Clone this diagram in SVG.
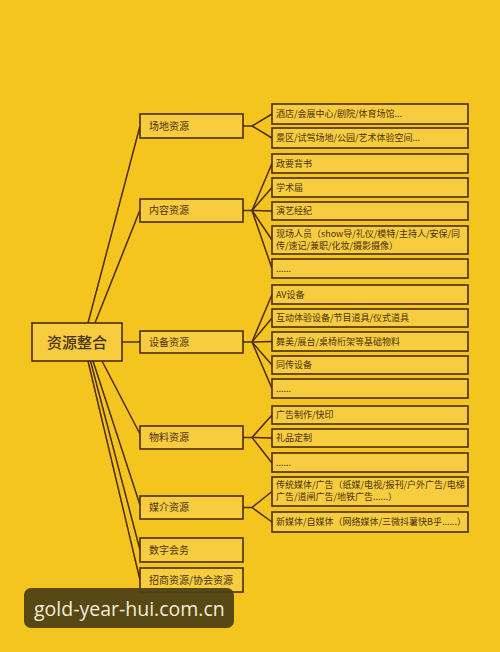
<svg xmlns="http://www.w3.org/2000/svg" width="500" height="652" viewBox="0 0 500 652">
<defs>
<style>
.n rect{fill:#f7cd3f;stroke:#4a2c12;stroke-width:1.6}
.t{font-family:"Noto Sans CJK SC","Noto Sans",sans-serif;fill:#4a3012}
.m{font-size:15px;font-weight:500}
.l1{font-size:10px}
.l2{font-size:9px}
#edges line,#edges polyline{stroke:#4a2c12;stroke-width:1.5;fill:none}
</style>
</defs>
<rect width="500" height="652" fill="#f4c41f"/>
<g id="edges">
<line x1="88" y1="323" x2="140" y2="126"/>
<line x1="95" y1="323" x2="140" y2="210"/>
<line x1="122" y1="342" x2="140" y2="342"/>
<line x1="102" y1="361" x2="140" y2="434"/>
<line x1="93" y1="361" x2="140" y2="505"/>
<line x1="90.5" y1="361" x2="140" y2="550"/>
<line x1="88" y1="361" x2="140" y2="580"/>
<polyline points="243,126 252,126 272,114"/>
<polyline points="252,126 272,138"/>
<polyline points="243,210.5 252,210.5 272,163.5"/>
<polyline points="252,210.5 272,187.5"/>
<polyline points="252,210.5 272,211"/>
<polyline points="252,210.5 272,240"/>
<polyline points="252,210.5 272,268.5"/>
<polyline points="243,342 252,342 272,294.5"/>
<polyline points="252,342 272,318"/>
<polyline points="252,342 272,341.5"/>
<polyline points="252,342 272,365"/>
<polyline points="252,342 272,388.5"/>
<polyline points="243,437.5 252,437.5 272,415"/>
<polyline points="252,437.5 272,438"/>
<polyline points="252,437.5 272,463"/>
<polyline points="243,507.5 252,507.5 272,491.5"/>
<polyline points="252,507.5 272,522"/>
</g>
<g id="root" class="n"><rect x="32" y="323" width="90" height="38"/><text class="t m" x="77" y="347.5" text-anchor="middle">资源整合</text></g>
<g id="venue" class="n"><rect x="140" y="114" width="103" height="24"/><text class="t l1" x="149" y="129.5">场地资源</text></g>
<g id="content" class="n"><rect x="140" y="199" width="103" height="23"/><text class="t l1" x="149" y="214">内容资源</text></g>
<g id="equip" class="n"><rect x="140" y="331" width="103" height="22"/><text class="t l1" x="149" y="345.5">设备资源</text></g>
<g id="material" class="n"><rect x="140" y="426" width="103" height="23"/><text class="t l1" x="149" y="441">物料资源</text></g>
<g id="media" class="n"><rect x="140" y="496" width="103" height="23"/><text class="t l1" x="149" y="511">媒介资源</text></g>
<g id="digital" class="n"><rect x="140" y="538" width="103" height="24"/><text class="t l1" x="149" y="553.5">数字会务</text></g>
<g id="invest" class="n"><rect x="140" y="568" width="103" height="24"/><text class="t l1" x="149" y="583.5">招商资源/协会资源</text></g>
<g id="v1" class="n"><rect x="272" y="104" width="196" height="20"/><text class="t l2" x="276" y="117">酒店/会展中心/剧院/体育场馆...</text></g>
<g id="v2" class="n"><rect x="272" y="128" width="196" height="20"/><text class="t l2" x="276" y="141">景区/试驾场地/公园/艺术体验空间...</text></g>
<g id="c1" class="n"><rect x="272" y="154" width="196" height="19"/><text class="t l2" x="276" y="166.5">政要背书</text></g>
<g id="c2" class="n"><rect x="272" y="178" width="196" height="19"/><text class="t l2" x="276" y="190.5">学术届</text></g>
<g id="c3" class="n"><rect x="272" y="202" width="196" height="18"/><text class="t l2" x="276" y="214">演艺经纪</text></g>
<g id="c4" class="n"><rect x="272" y="226" width="196" height="28"/><text class="t l2" x="276" y="236.5">现场人员（show导/礼仪/模特/主持人/安保/同</text><text class="t l2" x="276" y="248.5">传/速记/兼职/化妆/摄影摄像）</text></g>
<g id="c5" class="n"><rect x="272" y="259" width="196" height="19"/><text class="t l2" x="276" y="271.5">......</text></g>
<g id="e1" class="n"><rect x="272" y="285" width="196" height="19"/><text class="t l2" x="276" y="297.5">AV设备</text></g>
<g id="e2" class="n"><rect x="272" y="309" width="196" height="18"/><text class="t l2" x="276" y="321">互动体验设备/节目道具/仪式道具</text></g>
<g id="e3" class="n"><rect x="272" y="332" width="196" height="19"/><text class="t l2" x="276" y="344.5">舞美/展台/桌椅桁架等基础物料</text></g>
<g id="e4" class="n"><rect x="272" y="356" width="196" height="18"/><text class="t l2" x="276" y="368">同传设备</text></g>
<g id="e5" class="n"><rect x="272" y="379" width="196" height="19"/><text class="t l2" x="276" y="391.5">......</text></g>
<g id="m1" class="n"><rect x="272" y="406" width="196" height="18"/><text class="t l2" x="276" y="418">广告制作/快印</text></g>
<g id="m2" class="n"><rect x="272" y="429" width="196" height="18"/><text class="t l2" x="276" y="441">礼品定制</text></g>
<g id="m3" class="n"><rect x="272" y="453" width="196" height="19"/><text class="t l2" x="276" y="465.5">......</text></g>
<g id="d1" class="n"><rect x="272" y="477" width="196" height="29"/><text class="t l2" x="276" y="488">传统媒体/广告（纸媒/电视/报刊/户外广告/电梯</text><text class="t l2" x="276" y="500">广告/道闸广告/地铁广告......）</text></g>
<g id="d2" class="n"><rect x="272" y="512" width="196" height="20"/><text class="t l2" x="276" y="525">新媒体/自媒体（网络媒体/三微抖薯快B乎......）</text></g>
<g id="watermark"><rect x="24" y="588" width="210" height="40" rx="7" fill="#4e4114" fill-opacity="0.95"/><text x="34" y="616" font-family="'Open Sans','Noto Sans',sans-serif" font-size="19.5" fill="#f3ecd6">gold-year-hui.com.cn</text></g>
</svg>
